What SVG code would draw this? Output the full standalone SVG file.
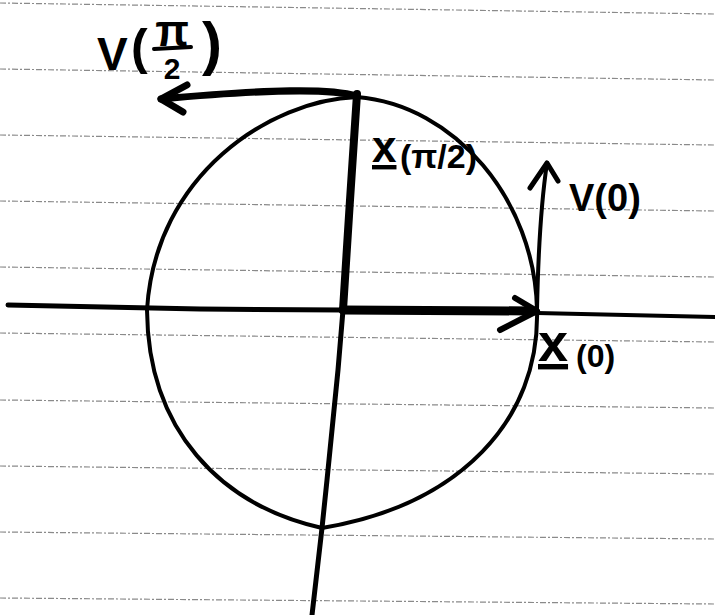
<svg xmlns="http://www.w3.org/2000/svg" width="715" height="615" viewBox="0 0 715 615">
<style>
.rule{stroke:#8a8a8a;stroke-width:1.2;stroke-dasharray:6 2 2 2;fill:none}
.ink{stroke:#000;fill:none;stroke-linecap:round;stroke-linejoin:round}
.t{font-family:"Liberation Sans","DejaVu Sans",sans-serif;font-weight:bold;fill:#000}
</style>
<rect width="715" height="615" fill="#fff"/>
<g id="paper">
<line class="rule" x1="0" y1="3" x2="715" y2="14"/>
<line class="rule" x1="0" y1="69" x2="715" y2="80"/>
<line class="rule" x1="0" y1="135" x2="715" y2="145"/>
<line class="rule" x1="0" y1="201" x2="715" y2="211"/>
<line class="rule" x1="0" y1="267" x2="715" y2="277"/>
<line class="rule" x1="0" y1="333" x2="715" y2="342"/>
<line class="rule" x1="0" y1="400" x2="715" y2="408"/>
<line class="rule" x1="0" y1="466" x2="715" y2="474"/>
<line class="rule" x1="0" y1="532" x2="715" y2="539"/>
<line class="rule" x1="0" y1="598" x2="715" y2="604"/>
</g>
<g id="circle">
<path class="ink" stroke-width="4" d="M357,97 C455,105 535,200 537,310 C540,420 460,505 322,528 C220,505 148,430 147,310 C155,175 270,100 357,97 Z"/>
</g>
<g id="connectors">
<path class="ink" stroke-width="5" d="M8,305 L200,309 L343,310"/>
<path class="ink" stroke-width="9" d="M343,310 L533,311"/>
<path class="ink" stroke-width="4" d="M537,313 L715,317"/>
<path class="ink" stroke-width="6" d="M515,298 L537,311 L500,330"/>
<path class="ink" stroke-width="8" d="M357,94 L350,200 L343,310"/>
<path class="ink" stroke-width="5" d="M343,310 L338,370 L327,480 L322,528 L312,615"/>
<path class="ink" stroke-width="7" d="M357,96 C330,88 270,89 161,99"/>
<path class="ink" stroke-width="7" d="M187,85 L161,99 L183,112"/>
<path class="ink" stroke-width="4" d="M537,310 C538,260 540,210 547,163"/>
<path class="ink" stroke-width="5" d="M530,188 L547,163 L558,181"/>
</g>
<g id="label-v-pi2">
<text class="t" x="97" y="70" font-size="46">V</text>
<text class="t" x="131" y="64" font-size="50">(</text>
<text class="t" x="172" y="46" font-size="44" text-anchor="middle">π</text>
<line class="ink" stroke-width="4" x1="154" y1="49" x2="191" y2="47"/>
<text class="t" x="172" y="79" font-size="30" text-anchor="middle">2</text>
<text class="t" x="202" y="64" font-size="60">)</text>
</g>
<g id="label-x-pi2">
<text class="t" x="372" y="162" font-size="44" text-decoration="underline">x</text>
<text class="t" x="400" y="168" font-size="34">(π/2)</text>
</g>
<g id="label-v0">
<text class="t" x="569" y="211" font-size="38">V(0)</text>
</g>
<g id="label-x0">
<text class="t" x="538" y="361" font-size="54" text-decoration="underline">x</text>
<text class="t" x="576" y="367" font-size="32">(0)</text>
</g>
</svg>
